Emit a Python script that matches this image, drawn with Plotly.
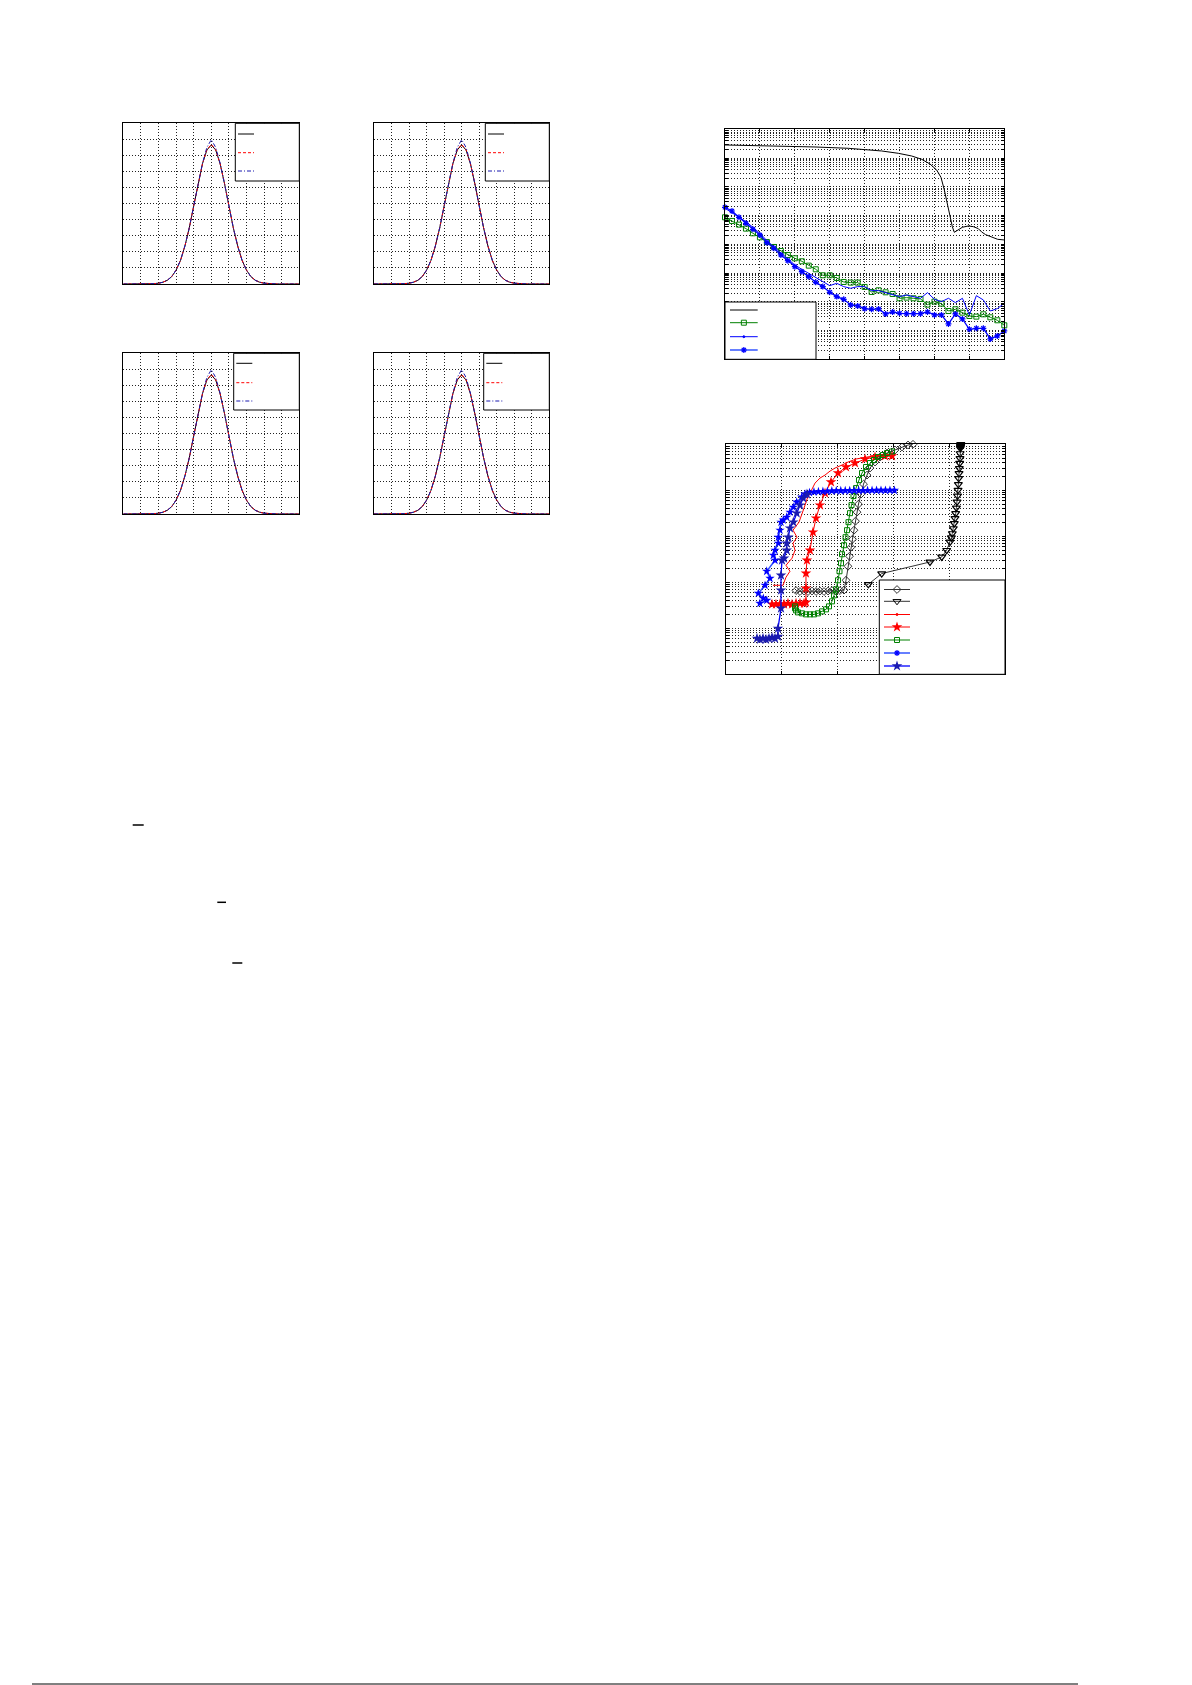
import numpy as np
import plotly.graph_objects as go

W, H = 1192, 1685

# ---------------- data: four Gaussian panels (shared curves) ----------------
gauss_x = [-5.0, -4.75, -4.5, -4.25, -4.0, -3.75, -3.5, -3.25, -3.0, -2.75,
           -2.5, -2.25, -2.0, -1.75, -1.5, -1.25, -1.0, -0.75, -0.5, -0.25,
           0.0, 0.25, 0.5, 0.75, 1.0, 1.25, 1.5, 1.75, 2.0, 2.25,
           2.5, 2.75, 3.0, 3.25, 3.5, 3.75, 4.0, 4.25, 4.5, 4.75, 5.0]
gauss_exact = [0, 0, 0, 0, 0, 0, 0.001, 0.002, 0.005, 0.011,
               0.023, 0.046, 0.086, 0.147, 0.236, 0.350, 0.485, 0.625, 0.749, 0.834,
               0.865, 0.834, 0.749, 0.625, 0.485, 0.350, 0.236, 0.147, 0.086, 0.046,
               0.023, 0.011, 0.005, 0.002, 0.001, 0, 0, 0, 0, 0, 0]
gauss_approx = [0, 0, 0, 0, 0, 0, 0.001, 0.002, 0.005, 0.011,
                0.023, 0.046, 0.086, 0.147, 0.236, 0.350, 0.485, 0.625, 0.749, 0.836,
                0.868, 0.836, 0.749, 0.625, 0.485, 0.350, 0.236, 0.147, 0.086, 0.046,
                0.023, 0.011, 0.005, 0.002, 0.001, 0, 0, 0, 0, 0, 0]
gauss_sample = [0, 0, 0, 0, 0, 0, 0.001, 0.002, 0.005, 0.011,
                0.023, 0.046, 0.086, 0.147, 0.236, 0.350, 0.485, 0.624, 0.752, 0.850,
                0.898, 0.850, 0.752, 0.624, 0.485, 0.350, 0.236, 0.147, 0.086, 0.046,
                0.023, 0.011, 0.005, 0.002, 0.001, 0, 0, 0, 0, 0, 0]

# ---------------- data: top-right panel (log10 of error) ----------------
err_black_x = [0.0, 0.668, 1.623, 2.578, 3.532, 4.010, 4.487, 4.964, 5.346, 5.632,
               5.871, 6.062, 6.186, 6.282, 6.368, 6.444, 6.511, 6.568, 6.663, 6.797,
               6.969, 7.112, 7.255, 7.351, 7.465, 7.637, 7.809, 8.0]
err_black_log = [-0.545, -0.557, -0.580, -0.615, -0.661, -0.696, -0.754, -0.835, -0.928, -1.043,
                 -1.206, -1.414, -1.670, -2.110, -2.574, -3.038, -3.386, -3.583, -3.501, -3.409,
                 -3.362, -3.386, -3.455, -3.571, -3.664, -3.733, -3.826, -3.849]
err_x = [0.0, 0.2, 0.4, 0.6, 0.8, 1.0, 1.2, 1.4, 1.6, 1.8,
         2.0, 2.2, 2.4, 2.6, 2.8, 3.0, 3.2, 3.4, 3.6, 3.8,
         4.0, 4.2, 4.4, 4.6, 4.8, 5.0, 5.2, 5.4, 5.6, 5.8,
         6.0, 6.2, 6.4, 6.6, 6.8, 7.0, 7.2, 7.4, 7.6, 7.8, 8.0]
err_green_log = [-3.061, -3.188, -3.316, -3.455, -3.617, -3.757, -3.919, -4.093, -4.232, -4.371,
                 -4.487, -4.591, -4.742, -4.870, -5.078, -5.078, -5.171, -5.310, -5.333, -5.333,
                 -5.484, -5.658, -5.600, -5.670, -5.728, -5.878, -5.855, -5.878, -5.901, -6.099,
                 -5.994, -6.064, -6.319, -6.261, -6.377, -6.493, -6.516, -6.435, -6.539, -6.643,
                 -6.817]
err_bluethin_log = [-2.748, -2.899, -3.038, -3.212, -3.409, -3.617, -3.872, -4.081, -4.290, -4.487,
                    -4.719, -4.870, -5.009, -5.148, -5.299, -5.438, -5.357, -5.472, -5.530, -5.472,
                    -5.472, -5.612, -5.612, -5.681, -5.762, -5.820, -5.762, -5.820, -5.878, -5.681,
                    -5.913, -5.994, -5.878, -6.029, -5.878, -6.458, -5.786, -5.936, -6.319, -6.238,
                    -6.052]
err_bluestar_log = [-2.713, -2.841, -3.061, -3.270, -3.478, -3.675, -3.942, -4.139, -4.371, -4.568,
                    -4.777, -4.951, -5.125, -5.322, -5.472, -5.670, -5.820, -5.913, -6.110, -6.145,
                    -6.238, -6.261, -6.249, -6.423, -6.354, -6.400, -6.412, -6.412, -6.412, -6.354,
                    -6.458, -6.458, -6.771, -6.423, -6.597, -6.957, -6.922, -6.922, -7.293, -7.188,
                    -7.014]

# ---------------- data: bottom-right panel (log10 of y) ----------------
diam_x = [1.259, 1.330, 1.402, 1.474, 1.545, 1.617, 1.688, 1.760, 1.832, 1.903, 1.975, 2.046, 2.118,
          2.154, 2.189, 2.216, 2.243, 2.270, 2.297, 2.324, 2.351, 2.377, 2.422,
          2.467, 2.530, 2.583, 2.673, 2.762, 2.888, 3.031, 3.156, 3.264, 3.353]
diam_log = [-3.18, -3.20, -3.19, -3.20, -3.19, -3.20, -3.19, -3.20, -3.19, -3.18, -3.19, -3.18, -3.17,
            -2.956, -2.651, -2.434, -2.238, -2.063, -1.867, -1.671, -1.475, -1.301, -1.083,
            -0.865, -0.669, -0.516, -0.386, -0.277, -0.190, -0.124, -0.059, -0.015, 0.0]
tri_x = [2.553, 2.793, 3.657, 3.867, 3.956, 4.015, 4.040, 4.057, 4.075, 4.092,
         4.105, 4.117, 4.130, 4.141, 4.150, 4.159, 4.165, 4.171, 4.177, 4.182,
         4.188, 4.194, 4.197, 4.200, 4.203, 4.205, 4.207, 4.208, 4.209]
tri_log = [-3.044, -2.810, -2.558, -2.449, -2.303, -2.122, -2.030, -1.939, -1.830, -1.721,
           -1.610, -1.503, -1.380, -1.251, -1.120, -0.996, -0.870, -0.741, -0.630, -0.523,
           -0.410, -0.305, -0.200, -0.087, -0.060, -0.040, -0.025, -0.012, 0.0]
redthin_x = [0.847, 0.936, 1.026, 1.079, 1.151, 1.079, 1.187, 1.241, 1.205, 1.277,
             1.205, 1.312, 1.348, 1.402, 1.456, 1.528, 1.599, 1.688, 1.778, 1.868,
             1.957, 2.082, 2.190, 2.333, 2.494, 2.637, 2.799, 2.995]
redthin_log = [-3.065, -3.065, -3.065, -2.891, -2.760, -2.630, -2.477, -2.303, -2.150, -2.020,
               -1.867, -1.693, -1.584, -1.388, -1.192, -1.017, -0.843, -0.734, -0.669, -0.582,
               -0.516, -0.451, -0.386, -0.320, -0.277, -0.255, -0.233, -0.233]
redstar_x = [0.829, 0.900, 0.972, 1.044, 1.115, 1.187, 1.259, 1.330, 1.402, 1.437,
             1.437, 1.437, 1.455, 1.509, 1.563, 1.617, 1.688, 1.778, 1.885, 2.011,
             2.154, 2.315, 2.494, 2.673, 2.852, 2.977]
redstar_log = [-3.479, -3.479, -3.470, -3.479, -3.460, -3.479, -3.460, -3.460, -3.460, -3.435,
               -3.131, -2.804, -2.521, -2.303, -1.911, -1.606, -1.323, -1.061, -0.821, -0.625,
               -0.494, -0.407, -0.320, -0.277, -0.255, -0.255]
sq_x = [1.241, 1.241, 1.259, 1.294, 1.366, 1.437, 1.509, 1.581, 1.652, 1.724,
        1.796, 1.849, 1.903, 1.939, 1.975, 2.011, 2.037, 2.064, 2.082, 2.118,
        2.145, 2.172, 2.198, 2.225, 2.252, 2.288, 2.333, 2.386, 2.440, 2.512,
        2.583, 2.655, 2.727, 2.816, 2.888, 2.977]
sq_log = [-3.523, -3.566, -3.610, -3.654, -3.675, -3.697, -3.697, -3.697, -3.675, -3.632,
          -3.588, -3.523, -3.414, -3.283, -3.153, -2.956, -2.760, -2.586, -2.390, -2.194,
          -2.020, -1.867, -1.693, -1.497, -1.322, -1.126, -0.952, -0.778, -0.625, -0.494,
          -0.407, -0.342, -0.277, -0.233, -0.190, -0.157]
blueast_x = [0.612, 0.734, 0.673, 0.584, 0.704, 0.793, 0.734, 0.883, 0.852, 0.883,
             0.942, 0.942, 0.972, 0.990, 1.031, 1.092, 1.151, 1.210, 1.271, 1.361, 1.420,
             1.50, 1.58, 1.66, 1.74, 1.82, 1.90, 1.98, 2.06, 2.14, 2.22,
             2.30, 2.38, 2.46, 2.54, 2.62, 2.70, 2.78, 2.86, 2.94, 3.02]
blueast_log = [-3.458, -3.392, -3.349, -3.240, -3.065, -2.913, -2.760, -2.521, -2.412, -2.303,
               -2.150, -2.020, -1.867, -1.693, -1.648, -1.584, -1.475, -1.366, -1.257, -1.148, -1.083,
               -1.050, -1.035, -1.030, -1.025, -1.020, -1.015, -1.012, -1.010, -1.008, -1.006,
               -1.005, -1.004, -1.003, -1.002, -1.002, -1.001, -1.001, -1.000, -1.000, -1.000]
bluepent_x = [0.560, 0.614, 0.668, 0.721, 0.775, 0.829, 0.883, 0.936, 0.936, 0.990,
              0.990, 0.990, 1.008, 1.044, 1.092, 1.092, 1.121, 1.151, 1.210, 1.271,
              1.330, 1.389, 1.455]
bluepent_log = [-4.220, -4.242, -4.220, -4.242, -4.220, -4.200, -4.220, -4.180, -4.002, -3.566,
                -3.174, -2.847, -2.521, -2.477, -2.303, -2.150, -2.020, -1.824, -1.693, -1.497,
                -1.322, -1.170, -1.083]

# ---------------- styles ----------------
BLACK = "#000000"
RED = "#ff0000"
DBLUE = "#1a1ab0"
BLUE = "#0000ff"
LBLUE = "#3355ff"
GREEN = "#008000"
GRAY = "#333333"

fig = go.Figure()


def dom_x(a, b):
    return [a / W, b / W]


def dom_y(top, bottom):
    return [1 - bottom / H, 1 - top / H]


common = dict(showline=True, linecolor="black", linewidth=1, mirror="ticks",
              ticks="inside", ticklen=3, tickcolor="black", tickwidth=1,
              showticklabels=False, showgrid=True, gridcolor="#222222", gridwidth=1,
              griddash="1px,2px", zeroline=False, tickmode="array", fixedrange=True)

layout_axes = {}


def set_axes(i, px_x, px_y, xr, yr, xt, yt, ylog=False, ticks="inside"):
    xn = "xaxis" if i == 1 else f"xaxis{i}"
    yn = "yaxis" if i == 1 else f"yaxis{i}"
    ya = "y" if i == 1 else f"y{i}"
    xa = "x" if i == 1 else f"x{i}"
    layout_axes[xn] = dict(common, domain=dom_x(*px_x), range=xr, tickvals=xt, anchor=ya, ticks=ticks)
    yd = dict(common, domain=dom_y(*px_y), range=yr, tickvals=yt, anchor=xa, ticks=ticks)
    if ylog:
        yd["type"] = "log"
    layout_axes[yn] = yd
    return xa, ya


gauss_panels = [((123.3, 299.3), (123.3, 284.0)), ((374.0, 549.3), (123.3, 284.0)),
                ((123.3, 299.3), (353.3, 514.0)), ((374.0, 549.3), (353.3, 514.0))]
gx_ticks = [-5, -4, -3, -2, -1, 0, 1, 2, 3, 4, 5]
gy_ticks = [0, 0.1, 0.2, 0.3, 0.4, 0.5, 0.6, 0.7, 0.8, 0.9, 1.0]

for k, (pxx, pxy) in enumerate(gauss_panels):
    xa, ya = set_axes(k + 1, pxx, pxy, [-5, 5], [0, 1], gx_ticks, gy_ticks, ticks="")
    fig.add_trace(go.Scatter(x=gauss_x, y=gauss_exact, mode="lines", xaxis=xa, yaxis=ya,
                             line=dict(color=BLACK, width=1), showlegend=False))
    fig.add_trace(go.Scatter(x=gauss_x, y=gauss_approx, mode="lines", xaxis=xa, yaxis=ya,
                             line=dict(color=RED, width=1, dash="3px,2px"), showlegend=False))
    fig.add_trace(go.Scatter(x=gauss_x, y=gauss_sample, mode="lines", xaxis=xa, yaxis=ya,
                             line=dict(color=DBLUE, width=1, dash="4px,2px,1px,2px"), showlegend=False))

# top-right panel
log8 = [kk * 10.0 ** n for n in range(-8, 0) for kk in range(1, 10)] + [1.0]
xa, ya = set_axes(5, (725.0, 1004.3), (129.3, 359.3), [0, 8], [-8, 0],
                  [0, 1, 2, 3, 4, 5, 6, 7, 8], log8, ylog=True)
p10 = lambda v: list(10.0 ** np.array(v))
fig.add_trace(go.Scatter(x=err_black_x, y=p10(err_black_log), mode="lines", xaxis=xa, yaxis=ya,
                         line=dict(color=BLACK, width=1), showlegend=False))
fig.add_trace(go.Scatter(x=err_x, y=p10(err_green_log), mode="lines+markers", xaxis=xa, yaxis=ya,
                         line=dict(color=GREEN, width=1),
                         marker=dict(symbol="square-open", size=5, color=GREEN, line=dict(width=1)),
                         cliponaxis=False, showlegend=False))
fig.add_trace(go.Scatter(x=err_x, y=p10(err_bluethin_log), mode="lines", xaxis=xa, yaxis=ya,
                         line=dict(color=BLUE, width=1), showlegend=False))
fig.add_trace(go.Scatter(x=err_x, y=p10(err_bluestar_log), mode="lines+markers", xaxis=xa, yaxis=ya,
                         line=dict(color=BLUE, width=1.3),
                         marker=dict(symbol="asterisk-open", size=5, color=BLUE, line=dict(width=1.2, color=BLUE)),
                         cliponaxis=False, showlegend=False))

# bottom-right panel
log5 = [kk * 10.0 ** n for n in range(-5, 0) for kk in range(1, 10)] + [1.0]
xa, ya = set_axes(6, (725.7, 1005.0), (444.3, 674.3), [0, 5], [-5, 0],
                  [0, 1, 2, 3, 4, 5], log5, ylog=True)
fig.add_trace(go.Scatter(x=diam_x, y=p10(diam_log), mode="lines+markers", xaxis=xa, yaxis=ya,
                         line=dict(color=GRAY, width=1),
                         marker=dict(symbol="diamond-open", size=6, color=GRAY, line=dict(width=1)),
                         cliponaxis=False, showlegend=False))
fig.add_trace(go.Scatter(x=tri_x, y=p10(tri_log), mode="lines+markers", xaxis=xa, yaxis=ya,
                         line=dict(color=GRAY, width=1),
                         marker=dict(symbol="triangle-down-open", size=7, color=BLACK, line=dict(width=1.2)),
                         cliponaxis=False, showlegend=False))
fig.add_trace(go.Scatter(x=redthin_x, y=p10(redthin_log), mode="lines", xaxis=xa, yaxis=ya,
                         line=dict(color=RED, width=1), showlegend=False))
fig.add_trace(go.Scatter(x=redstar_x, y=p10(redstar_log), mode="lines+markers", xaxis=xa, yaxis=ya,
                         line=dict(color=RED, width=1),
                         marker=dict(symbol="star", size=8, color=RED),
                         cliponaxis=False, showlegend=False))
fig.add_trace(go.Scatter(x=sq_x, y=p10(sq_log), mode="lines+markers", xaxis=xa, yaxis=ya,
                         line=dict(color=GREEN, width=1),
                         marker=dict(symbol="square-open", size=5, color=GREEN, line=dict(width=1)),
                         cliponaxis=False, showlegend=False))
fig.add_trace(go.Scatter(x=blueast_x, y=p10(blueast_log), mode="lines+markers", xaxis=xa, yaxis=ya,
                         line=dict(color=LBLUE, width=1.5),
                         marker=dict(symbol="star", size=7, color=BLUE),
                         cliponaxis=False, showlegend=False))
fig.add_trace(go.Scatter(x=bluepent_x, y=p10(bluepent_log), mode="lines+markers", xaxis=xa, yaxis=ya,
                         line=dict(color=BLUE, width=1.3),
                         marker=dict(symbol="star", size=8, color=DBLUE),
                         cliponaxis=False, showlegend=False))

# ---------------- overlay (pixel space) for the hand-drawn legends ----------------
layout_axes["xaxis7"] = dict(domain=[0, 1], range=[0, W], visible=False, fixedrange=True, anchor="y7")
layout_axes["yaxis7"] = dict(domain=[0, 1], range=[H, 0], visible=False, fixedrange=True, anchor="x7")


def box(x0, x1, y0, y1):
    fig.add_trace(go.Scatter(x=[x0, x1, x1, x0, x0], y=[y0, y0, y1, y1, y0], mode="lines",
                             fill="toself", fillcolor="white", line=dict(color="black", width=1),
                             xaxis="x7", yaxis="y7", showlegend=False, hoverinfo="skip"))


def entry(x0, x1, y, color, width=1, dash="solid", symbol=None, msize=6, mline=1, mcolor=None):
    fig.add_trace(go.Scatter(x=[x0, x1], y=[y, y], mode="lines", xaxis="x7", yaxis="y7",
                             line=dict(color=color, width=width, dash=dash), showlegend=False,
                             hoverinfo="skip"))
    if symbol:
        fig.add_trace(go.Scatter(x=[(x0 + x1) / 2], y=[y], mode="markers", xaxis="x7", yaxis="y7",
                                 marker=dict(symbol=symbol, size=msize, color=mcolor or color,
                                             line=dict(width=mline, color=mcolor or color)),
                                 showlegend=False, hoverinfo="skip", cliponaxis=False))


g_boxes = [(235.3, 299.3, 123.3, 181.0), (485.3, 549.3, 123.3, 181.0),
           (233.7, 299.3, 353.3, 410.0), (483.7, 549.3, 353.3, 410.0)]
g_x0 = [238.0, 488.0, 236.3, 486.3]
g_rows = [[134.0, 152.7, 171.0], [134.0, 152.7, 171.0], [363.3, 382.7, 401.0], [363.3, 382.7, 401.0]]
for b, x0, rows in zip(g_boxes, g_x0, g_rows):
    box(*b)
    entry(x0, x0 + 16, rows[0], BLACK)
    entry(x0, x0 + 16, rows[1], RED, dash="3px,2px")
    entry(x0, x0 + 16, rows[2], DBLUE, dash="4px,2px,1px,2px")

box(725.0, 816.0, 302.0, 359.3)
entry(730, 757.7, 310.0, BLACK)
entry(730, 757.7, 322.7, GREEN, symbol="square-open", msize=5)
entry(730, 757.7, 336.7, BLUE, symbol="circle", msize=2)
entry(730, 757.7, 350.0, LBLUE, width=1.5, symbol="asterisk-open", msize=5, mline=1.2, mcolor=BLUE)

box(879.3, 1005.0, 580.0, 674.3)
entry(884, 910, 589.5, GRAY, symbol="diamond-open", msize=6)
entry(884, 910, 601.3, GRAY, symbol="triangle-down-open", msize=7, mcolor=BLACK)
entry(884, 910, 614.5, RED, symbol="circle", msize=2)
entry(884, 910, 627.0, RED, symbol="star", msize=8, mline=0)
entry(884, 910, 640.0, GREEN, symbol="square-open", msize=5)
entry(884, 910, 653.0, LBLUE, width=1.5, symbol="asterisk-open", msize=5, mline=1.2, mcolor=BLUE)
entry(884, 910, 666.0, BLUE, width=1.3, symbol="star", msize=8, mline=0, mcolor=DBLUE)

# stray page rules (fraction bars / footer rule of the source page)
for (a, b, y, w) in [(132.7, 143.7, 825.0, 1.5), (217.3, 226.0, 902.3, 1.5),
                     (232.3, 242.3, 963.0, 1.5), (32.0, 1078.0, 1684.0, 1.0)]:
    fig.add_trace(go.Scatter(x=[a, b], y=[y, y], mode="lines", xaxis="x7", yaxis="y7",
                             line=dict(color="black", width=w), showlegend=False, hoverinfo="skip"))

fig.update_layout(width=W, height=H, margin=dict(l=0, r=0, t=0, b=0),
                  paper_bgcolor="white", plot_bgcolor="rgba(0,0,0,0)",
                  showlegend=False, **layout_axes)

fig.write_html("out.html", config={"displayModeBar": False},
               post_script="document.body.style.margin='0';document.body.style.overflow='hidden';")
